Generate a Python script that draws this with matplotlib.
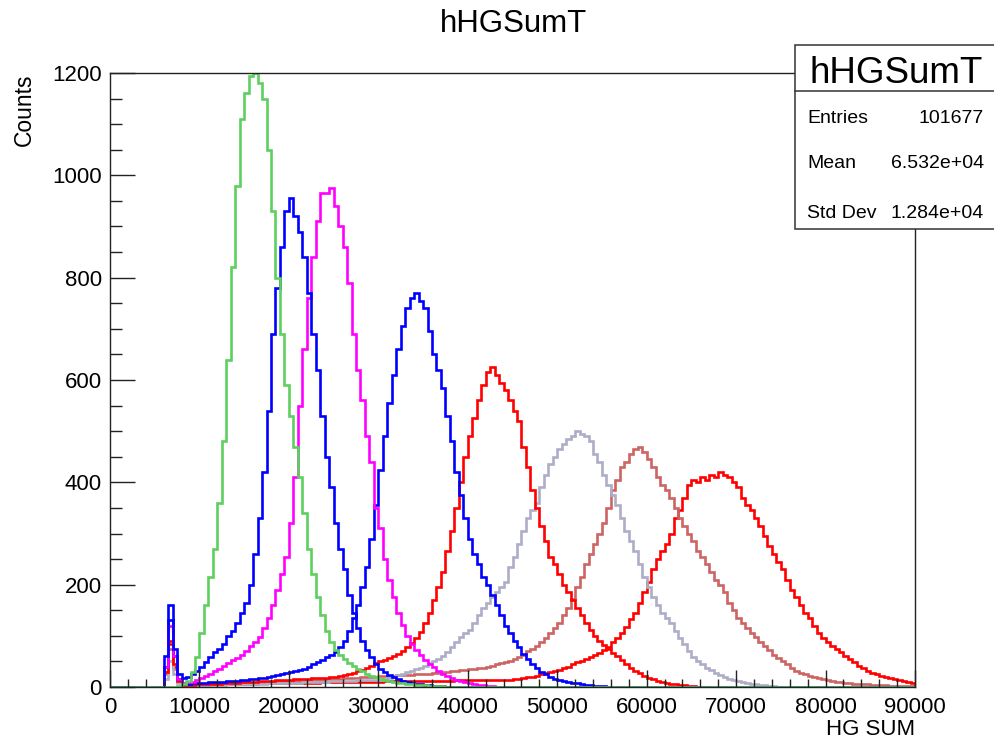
import numpy as np
import matplotlib
matplotlib.use('Agg')
import matplotlib.pyplot as plt
from matplotlib.patches import Rectangle
from matplotlib.lines import Line2D
from matplotlib.ticker import MultipleLocator

plt.rcParams['font.family'] = ['Liberation Sans', 'DejaVu Sans']

# histogram binning (counts, one value per 500-wide bin starting at 6000)
bin_width = 500
first_bin = 6000
x_max = 90000

green = [0, 0, 0, 2, 5, 12, 30, 58, 105, 160,
         215, 270, 360, 480, 640, 820, 980, 1110, 1160, 1195,
         1200, 1180, 1150, 1050, 930, 800, 690, 590, 530, 470,
         410, 340, 270, 220, 175, 140, 110, 88, 72, 62,
         54, 47, 41, 36, 31, 26, 22, 19, 16, 14,
         12, 10, 8, 7, 6, 5, 4, 3, 3, 2,
         2, 1, 1]

blue_a = [60, 160, 75, 25, 18, 20, 25, 32, 40, 48,
          58, 68, 75, 85, 100, 110, 125, 145, 165, 200,
          260, 330, 420, 540, 690, 780, 860, 930, 955, 920,
          890, 840, 770, 690, 620, 530, 450, 390, 320, 270,
          230, 180, 145, 115, 90, 72, 58, 45, 36, 30,
          24, 19, 15, 12, 10, 8, 6, 5, 4, 3,
          2, 2, 1]

magenta = [40, 120, 60, 15, 8, 9, 10, 13, 17, 22,
           26, 31, 36, 42, 47, 52, 57, 63, 70, 80,
           88, 98, 115, 135, 160, 190, 220, 255, 320, 410,
           550, 660, 760, 840, 910, 965, 965, 975, 940, 900,
           860, 790, 690, 620, 560, 490, 440, 350, 310, 250,
           210, 175, 145, 122, 100, 85, 72, 62, 52, 45,
           39, 32, 26, 21, 17, 14, 12, 9, 7, 5,
           4, 3, 2, 1]

blue_b = [40, 130, 60, 15, 6, 6, 7, 7, 8, 8,
          9, 9, 10, 10, 11, 11, 12, 13, 14, 15,
          16, 17, 18, 19, 21, 23, 25, 27, 29, 31,
          33, 36, 40, 44, 48, 53, 58, 63, 68, 78,
          90, 110, 135, 160, 195, 235, 290, 355, 425, 490,
          555, 610, 660, 705, 740, 760, 770, 755, 740, 695,
          650, 620, 585, 530, 480, 420, 375, 330, 290, 260,
          240, 215, 200, 180, 160, 140, 120, 105, 90, 78,
          65, 55, 45, 37, 30, 25, 20, 16, 13, 11,
          9, 8, 7, 5, 4, 3, 2, 2, 1]

red_a = [30, 90, 45, 12, 4, 4, 4, 5, 5, 5,
         6, 6, 6, 7, 7, 8, 8, 9, 9, 10,
         10, 11, 11, 12, 12, 13, 13, 14, 14, 15,
         15, 16, 16, 17, 17, 18, 18, 19, 20, 21,
         23, 25, 28, 31, 34, 38, 42, 46, 50, 53,
         56, 60, 64, 70, 78, 86, 95, 108, 125, 145,
         170, 195, 225, 265, 305, 350, 400, 450, 490, 525,
         560, 590, 615, 625, 610, 595, 580, 560, 540, 520,
         470, 430, 385, 350, 315, 285, 255, 240, 220, 200,
         185, 170, 155, 140, 125, 112, 100, 90, 82, 75,
         66, 60, 52, 45, 38, 32, 27, 22, 18, 15,
         12, 10, 8, 6, 5, 4, 3, 2, 1]

grey = [15, 50, 25, 8, 3, 3, 3, 3, 3, 4,
        4, 4, 4, 4, 5, 5, 5, 5, 5, 6,
        6, 6, 6, 7, 7, 7, 7, 8, 8, 8,
        8, 9, 9, 9, 10, 10, 10, 11, 11, 11,
        12, 12, 12, 13, 13, 13, 14, 14, 14, 16,
        18, 20, 23, 26, 29, 32, 35, 38, 42, 46,
        50, 54, 60, 68, 78, 88, 98, 105, 112, 125,
        140, 155, 165, 175, 185, 195, 205, 235, 255, 280,
        305, 330, 345, 360, 390, 415, 435, 450, 465, 475,
        485, 490, 500, 495, 490, 480, 455, 440, 415, 395,
        375, 355, 330, 305, 285, 265, 240, 215, 195, 175,
        160, 145, 135, 125, 110, 95, 85, 70, 58, 50,
        44, 38, 33, 28, 24, 20, 16, 14, 12, 10,
        8, 6, 5, 4, 3, 2, 1]

rosy = [25, 75, 35, 10, 3, 3, 3, 4, 4, 4,
        5, 5, 5, 6, 6, 6, 7, 7, 7, 8,
        8, 8, 9, 9, 9, 10, 10, 11, 11, 11,
        12, 12, 13, 13, 14, 14, 15, 15, 16, 16,
        17, 17, 18, 18, 19, 19, 20, 20, 21, 21,
        22, 22, 23, 23, 24, 24, 25, 25, 26, 26,
        27, 28, 29, 30, 31, 32, 33, 34, 35, 36,
        37, 38, 40, 42, 44, 46, 48, 50, 54, 58,
        63, 70, 75, 80, 88, 95, 105, 115, 125, 140,
        155, 172, 195, 215, 240, 260, 280, 300, 320, 350,
        385, 405, 430, 440, 455, 465, 470, 460, 445, 430,
        410, 395, 385, 370, 350, 330, 315, 300, 285, 265,
        255, 240, 225, 210, 200, 185, 165, 150, 135, 125,
        115, 105, 97, 88, 80, 72, 63, 56, 50, 44,
        38, 32, 28, 25, 22, 19, 17, 15, 13, 12,
        10, 9, 8, 7, 6, 6, 5, 5, 4, 4,
        3, 3, 2, 2, 2, 2, 1, 1]

red_sumT = [30, 85, 40, 12, 4, 4, 4, 4, 5, 5,
            5, 5, 5, 5, 6, 6, 6, 6, 6, 6,
            6, 7, 7, 7, 7, 7, 7, 7, 8, 8,
            8, 8, 8, 8, 8, 9, 9, 9, 9, 9,
            9, 9, 10, 10, 10, 10, 10, 10, 10, 11,
            11, 11, 11, 11, 11, 11, 12, 12, 12, 12,
            12, 12, 12, 12, 12, 13, 13, 13, 13, 13,
            13, 13, 13, 13, 14, 14, 14, 14, 15, 16,
            18, 19, 20, 22, 25, 27, 30, 32, 34, 37,
            40, 44, 48, 51, 55, 58, 62, 67, 72, 78,
            88, 95, 105, 118, 132, 145, 165, 185, 205, 230,
            250, 265, 280, 300, 330, 345, 370, 395, 405, 400,
            410, 405, 415, 410, 420, 415, 410, 400, 390, 370,
            355, 345, 330, 315, 295, 275, 260, 245, 230, 210,
            190, 175, 160, 145, 135, 120, 105, 95, 88, 80,
            74, 68, 60, 55, 48, 42, 37, 32, 28, 25,
            21, 19, 17, 15, 13, 12, 10, 8]

stats_name = 'hHGSumT'
stats_rows = [('Entries', '101677'), ('Mean', '6.532e+04'), ('Std Dev', '1.284e+04')]

# drawing order and colours
series = [
    (red_sumT, '#ff0000'),
    (rosy, '#cd6464'),
    (grey, '#adadc8'),
    (red_a, '#ff0000'),
    (blue_b, '#0000ff'),
    (magenta, '#ff00ff'),
    (blue_a, '#0000ff'),
    (green, '#5fcf5f'),
]


def full_counts(vals):
    counts = np.zeros(x_max // bin_width)
    i0 = first_bin // bin_width
    counts[i0:i0 + len(vals)] = vals
    return counts


edges = np.arange(0, x_max + bin_width, bin_width)

W, H = 994, 740
fig = plt.figure(figsize=(W / 100, H / 100), dpi=100)
ax = fig.add_axes([110 / W, 1 - 687 / H, 805 / W, 614 / H])

for vals, col in series:
    ax.stairs(full_counts(vals), edges, color=col, linewidth=1.9)

ax.set_xlim(0, x_max)
ax.set_ylim(0, 1200)
ax.xaxis.set_major_locator(MultipleLocator(10000))
ax.xaxis.set_minor_locator(MultipleLocator(2000))
ax.yaxis.set_major_locator(MultipleLocator(200))
ax.yaxis.set_minor_locator(MultipleLocator(50))
ax.tick_params(axis='both', which='both', direction='in', top=False, right=False,
               width=1.0, color='#222222', labelsize=16)
ax.tick_params(axis='x', which='major', length=12, pad=7)
ax.tick_params(axis='x', which='minor', length=6)
ax.tick_params(axis='y', which='major', length=18, pad=6)
ax.tick_params(axis='y', which='minor', length=8.5)
for sp in ax.spines.values():
    sp.set_linewidth(1.0)
    sp.set_color('#222222')

fig.text(513 / W, 1 - 32 / H, 'hHGSumT', ha='center', va='baseline', fontsize=22.5)
fig.text(915 / W, 1 - 735 / H, 'HG SUM', ha='right', va='baseline', fontsize=16)
fig.text(24 / W, 1 - 73 / H, 'Counts', ha='center', va='top', rotation=90, fontsize=16.5)

# stats box
box = Rectangle((795 / W, 1 - 229 / H), 220 / W, 184 / H, transform=fig.transFigure,
                facecolor='white', edgecolor='#333333', linewidth=1.1, zorder=5)
fig.add_artist(box)
fig.add_artist(Line2D([795 / W, 1.0], [1 - 91 / H, 1 - 91 / H], transform=fig.transFigure,
                      color='#333333', linewidth=1.1, zorder=6))
fig.text(896 / W, 1 - 83 / H, stats_name, ha='center', va='baseline', fontsize=26.5, zorder=7)
for (label, value), yb in zip(stats_rows, [123, 168, 218]):
    fig.text(807 / W, 1 - yb / H, label, ha='left', va='baseline', fontsize=14, zorder=7)
    fig.text(984 / W, 1 - yb / H, value, ha='right', va='baseline', fontsize=14, zorder=7)

fig.savefig('out.png', dpi=100)
